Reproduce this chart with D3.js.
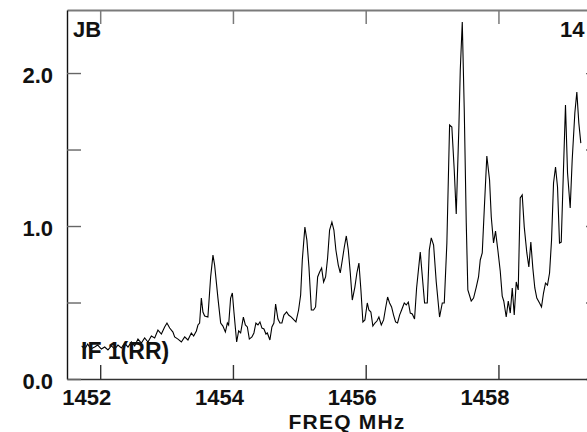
<!DOCTYPE html>
<html>
<head>
<meta charset="utf-8">
<script src="https://cdn.jsdelivr.net/npm/d3@7"></script>
<style>
  html, body { margin: 0; padding: 0; background: #fff; }
  svg { display: block; font-family: "Liberation Sans", Arial, Helvetica, sans-serif; }
</style>
</head>
<body>
<svg id="chart" width="587" height="432"></svg>
<script>
// Spectrum of IF 1 (RR): frequency (MHz) and flux density (Jy)
const freqMHz = [
  1451.721, 1451.767, 1451.812, 1451.857, 1451.917, 1451.962, 1452.018, 1452.068, 1452.117, 1452.169,
  1452.218, 1452.268, 1452.319, 1452.369, 1452.419, 1452.470, 1452.520, 1452.569, 1452.620, 1452.670,
  1452.720, 1452.771, 1452.821, 1452.870, 1452.922, 1452.971, 1453.006, 1453.047, 1453.096, 1453.122,
  1453.172, 1453.223, 1453.273, 1453.322, 1453.373, 1453.408, 1453.449, 1453.473, 1453.498, 1453.524,
  1453.548, 1453.574, 1453.623, 1453.664, 1453.699, 1453.724, 1453.774, 1453.815, 1453.849, 1453.886,
  1453.916, 1453.935, 1453.965, 1453.991, 1454.015, 1454.056, 1454.086, 1454.116, 1454.157, 1454.187,
  1454.217, 1454.247, 1454.286, 1454.316, 1454.346, 1454.377, 1454.407, 1454.437, 1454.467, 1454.497,
  1454.518, 1454.557, 1454.587, 1454.617, 1454.643, 1454.678, 1454.708, 1454.738, 1454.768, 1454.809,
  1454.839, 1454.880, 1454.919, 1454.949, 1454.989, 1455.020, 1455.045, 1455.084, 1455.114, 1455.145,
  1455.181, 1455.215, 1455.245, 1455.276, 1455.306, 1455.336, 1455.366, 1455.396, 1455.426, 1455.456,
  1455.491, 1455.521, 1455.551, 1455.587, 1455.617, 1455.648, 1455.678, 1455.708, 1455.738, 1455.768,
  1455.798, 1455.837, 1455.867, 1455.898, 1455.928, 1455.958, 1455.988, 1456.024, 1456.048, 1456.078,
  1456.108, 1456.139, 1456.169, 1456.199, 1456.235, 1456.270, 1456.300, 1456.330, 1456.360, 1456.390,
  1456.420, 1456.450, 1456.480, 1456.511, 1456.541, 1456.581, 1456.611, 1456.642, 1456.672, 1456.702,
  1456.736, 1456.767, 1456.822, 1456.887, 1456.928, 1456.958, 1456.988, 1457.023, 1457.063, 1457.113,
  1457.154, 1457.184, 1457.223, 1457.264, 1457.298, 1457.334, 1457.364, 1457.404, 1457.425, 1457.455,
  1457.485, 1457.515, 1457.539, 1457.590, 1457.625, 1457.666, 1457.700, 1457.726, 1457.756, 1457.786,
  1457.825, 1457.866, 1457.892, 1457.926, 1457.956, 1457.991, 1458.027, 1458.057, 1458.080, 1458.117,
  1458.148, 1458.178, 1458.208, 1458.238, 1458.268, 1458.298, 1458.328, 1458.358, 1458.389, 1458.428,
  1458.458, 1458.488, 1458.518, 1458.548, 1458.578, 1458.619, 1458.649, 1458.679, 1458.709, 1458.739,
  1458.770, 1458.800, 1458.830, 1458.860, 1458.890, 1458.920, 1458.946, 1458.970, 1459.010, 1459.041,
  1459.081, 1459.111, 1459.151, 1459.181, 1459.211, 1459.241
];
const fluxJy = [
  0.216, 0.196, 0.229, 0.196, 0.209, 0.222, 0.196, 0.209, 0.190, 0.216,
  0.196, 0.222, 0.203, 0.235, 0.209, 0.242, 0.216, 0.261, 0.235, 0.268,
  0.242, 0.281, 0.268, 0.320, 0.294, 0.340, 0.366, 0.333, 0.307, 0.275,
  0.261, 0.242, 0.275, 0.255, 0.301, 0.281, 0.314, 0.353, 0.366, 0.529,
  0.438, 0.412, 0.405, 0.667, 0.810, 0.745, 0.529, 0.366, 0.346, 0.307,
  0.366, 0.353, 0.529, 0.562, 0.438, 0.242, 0.314, 0.301, 0.405, 0.353,
  0.340, 0.261, 0.275, 0.301, 0.366, 0.353, 0.373, 0.333, 0.327, 0.294,
  0.301, 0.255, 0.340, 0.366, 0.490, 0.392, 0.366, 0.366, 0.418, 0.438,
  0.418, 0.405, 0.386, 0.373, 0.451, 0.549, 0.778, 0.993, 0.908, 0.732,
  0.451, 0.451, 0.471, 0.667, 0.699, 0.725, 0.634, 0.667, 0.791, 0.974,
  1.026, 0.974, 0.843, 0.745, 0.693, 0.778, 0.863, 0.935, 0.843, 0.693,
  0.516, 0.601, 0.693, 0.758, 0.582, 0.373, 0.386, 0.497, 0.451, 0.438,
  0.346, 0.366, 0.379, 0.405, 0.353, 0.386, 0.464, 0.536, 0.497, 0.471,
  0.418, 0.373, 0.366, 0.418, 0.451, 0.497, 0.484, 0.503, 0.431, 0.425,
  0.392, 0.595, 0.830, 0.497, 0.497, 0.843, 0.922, 0.876, 0.634, 0.405,
  0.497, 0.497, 0.889, 1.660, 1.647, 1.366, 1.078, 1.647, 2.020, 2.333,
  1.758, 1.020, 0.582, 0.510, 0.529, 0.601, 0.667, 0.778, 0.824, 1.105,
  1.458, 1.301, 1.059, 0.889, 0.967, 0.843, 0.706, 0.542, 0.510, 0.405,
  0.510, 0.431, 0.595, 0.418, 0.634, 0.582, 1.183, 1.203, 0.993, 0.824,
  0.732, 0.895, 0.725, 0.595, 0.529, 0.497, 0.471, 0.562, 0.627, 0.614,
  0.693, 0.908, 1.281, 1.386, 1.255, 0.889, 0.895, 1.235, 1.791, 1.346,
  1.118, 1.431, 1.739, 1.876, 1.673, 1.542
];

// Axis ticks
const freqTicks = [1452, 1454, 1456, 1458];
const fluxTicks = [0, 0.5, 1.0, 1.5, 2.0];
const fluxLabelled = [0, 1.0, 2.0];

// Annotation texts
const sourceLabel = "JB";
const cornerLabel = "14";
const ifLabel = "IF 1(RR)";
const xTitle = "FREQ MHz";

const svg = d3.select("#chart");
const plot = { left: 67, right: 600, top: 10, bottom: 379 };

const x = d3.scaleLinear().domain([1451.5, 1459.53]).range([plot.left, plot.right]);
const y = d3.scaleLinear().domain([0, 2.412]).range([plot.bottom, plot.top]);

const FONT = "bold 22px 'Liberation Sans', Arial, sans-serif";

svg.append("defs").append("clipPath").attr("id", "plotClip")
  .append("rect")
  .attr("x", plot.left).attr("y", plot.top)
  .attr("width", plot.right - plot.left).attr("height", plot.bottom - plot.top);

// Top axis (grey, ticks pointing down)
const topAxis = svg.append("g")
  .attr("transform", `translate(0,${plot.top})`)
  .call(d3.axisTop(x).tickValues(freqTicks).tickSize(-14).tickSizeOuter(0).tickFormat(""));
topAxis.select(".domain").attr("stroke", "#7a7a7a").attr("stroke-width", 2);
topAxis.selectAll(".tick line").attr("stroke", "#7a7a7a").attr("stroke-width", 1.5);

// Right axis (ticks pointing inward)
const rightAxis = svg.append("g")
  .attr("transform", `translate(${plot.right},0)`)
  .call(d3.axisRight(y).tickValues(fluxTicks).tickSize(-14).tickSizeOuter(0).tickFormat(""));
rightAxis.selectAll("line, path").attr("stroke", "#666").attr("stroke-width", 1.3);

// Bottom axis
const bottomAxis = svg.append("g")
  .attr("transform", `translate(0,${plot.bottom})`)
  .call(d3.axisBottom(x).tickValues(freqTicks).tickSize(-14).tickSizeOuter(0).tickPadding(10)
    .tickFormat(d3.format("d")));
bottomAxis.select(".domain").attr("stroke", "#333").attr("stroke-width", 1.6);
bottomAxis.selectAll(".tick line").attr("stroke", "#333").attr("stroke-width", 1.4);
bottomAxis.selectAll(".tick text")
  .style("font", FONT).attr("fill", "#111")
  .attr("dx", -14).attr("y", 26).attr("dy", 0);

// Left axis
const leftAxis = svg.append("g")
  .attr("transform", `translate(${plot.left},0)`)
  .call(d3.axisLeft(y).tickValues(fluxTicks).tickSize(-14).tickSizeOuter(0).tickPadding(14)
    .tickFormat(d => fluxLabelled.includes(d) ? d3.format(".1f")(d) : ""));
leftAxis.select(".domain").attr("stroke", "#111").attr("stroke-width", 1.4);
leftAxis.selectAll(".tick line").attr("stroke", "#666").attr("stroke-width", 1.4);
leftAxis.selectAll(".tick text")
  .style("font", FONT).attr("fill", "#111")
  .attr("dy", "0.42em");

// Spectrum line
const line = d3.line()
  .x((d, i) => x(freqMHz[i]))
  .y(d => y(d));
svg.append("path")
  .datum(fluxJy)
  .attr("clip-path", "url(#plotClip)")
  .attr("fill", "none")
  .attr("stroke", "#000")
  .attr("stroke-width", 1.1)
  .attr("stroke-linejoin", "miter")
  .attr("d", line);

// Labels
svg.append("text").attr("x", 73).attr("y", 37).style("font", FONT).attr("fill", "#111").text(sourceLabel);
svg.append("text").attr("x", 560).attr("y", 37).style("font", FONT).attr("fill", "#111").text(cornerLabel);
svg.append("text").attr("x", 81).attr("y", 359).style("font", "bold 23px 'Liberation Sans', Arial, sans-serif")
  .attr("fill", "#111").text(ifLabel);
svg.append("text").attr("x", 347).attr("y", 429).attr("text-anchor", "middle")
  .style("font", "bold 21px 'Liberation Sans', Arial, sans-serif")
  .style("letter-spacing", "1.2px")
  .attr("fill", "#111").text(xTitle);
</script>
</body>
</html>
